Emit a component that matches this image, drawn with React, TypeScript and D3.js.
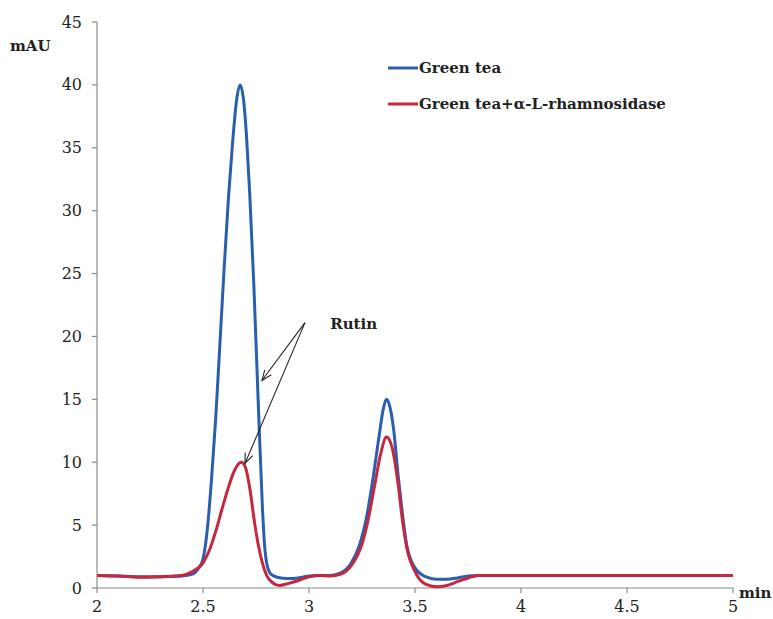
import React from "react";
import * as d3 from "d3";

const blueX = [2.0, 2.1, 2.2, 2.3, 2.4, 2.45, 2.48, 2.5, 2.52, 2.54, 2.56, 2.58, 2.6, 2.62, 2.64, 2.66, 2.675, 2.69, 2.705, 2.72, 2.74, 2.76, 2.78, 2.79, 2.8, 2.82, 2.85, 2.9, 2.95, 3.0, 3.05, 3.1, 3.15, 3.2, 3.24, 3.27, 3.3, 3.33, 3.35, 3.365, 3.38, 3.4, 3.42, 3.44, 3.46, 3.5, 3.55, 3.6, 3.65, 3.7, 3.75, 3.8, 4.0, 4.5, 5.0];
const blueY = [1.0, 0.95, 0.9, 0.9, 0.95, 1.1, 1.6, 2.3, 4.6, 8.6, 13.5, 19.5, 25.5, 31, 35.5, 39, 40, 39, 36, 31.5, 24, 15, 6.5, 3.5, 2.0, 1.1, 0.85, 0.75, 0.8, 0.95, 1.0, 1.0, 1.2, 2.0, 3.5, 5.5, 8.5, 12, 14.2, 15, 14.5, 12.5, 9, 6, 3.5, 1.6, 0.9, 0.7, 0.7, 0.8, 0.95, 1.0, 1.0, 1.0, 1.0];

const redX = [2.0, 2.1, 2.2, 2.3, 2.4, 2.45, 2.5, 2.53, 2.56, 2.59, 2.62, 2.65, 2.68, 2.7, 2.72, 2.745, 2.76, 2.78, 2.8, 2.83, 2.86, 2.9, 2.95, 3.0, 3.05, 3.1, 3.15, 3.2, 3.25, 3.28, 3.31, 3.34, 3.365, 3.39, 3.42, 3.44, 3.46, 3.5, 3.55, 3.6, 3.65, 3.7, 3.75, 3.8, 4.0, 4.5, 5.0];
const redY = [1.0, 0.95, 0.85, 0.9, 1.0, 1.3, 2.0, 3.0, 4.5, 6.3, 8.0, 9.4, 10, 9.6, 8.0, 5.0, 3.5, 2.0, 1.0, 0.4, 0.2, 0.35, 0.6, 0.9, 1.0, 0.95, 1.1, 1.8, 3.5, 5.5, 8.2, 10.8, 12, 11.3, 8.3, 5.5, 3.3, 1.3, 0.3, 0.1, 0.2, 0.5, 0.8, 1.0, 1.0, 1.0, 1.0];

const xTicks = [2, 2.5, 3, 3.5, 4, 4.5, 5];
const yTicks = [0, 5, 10, 15, 20, 25, 30, 35, 40, 45];
const seriesNames = ["Green tea", "Green tea+\u03b1-L-rhamnosidase"];
const seriesColors = ["#2a5fb0", "#c4283e"];
const annotationLabel = "Rutin";
// arrow start, arrow tips (data coords)
const arrowStart = [2.981, 21.1];
const arrowTips = [[2.778, 16.5], [2.698, 9.9]];
const labelPos = [3.1, 20.6];

export default function App() {
  const W = 773, H = 619;
  const x = d3.scaleLinear().domain([2, 5]).range([97, 733]);
  const y = d3.scaleLinear().domain([0, 45]).range([588, 22]);
  const line = d3.line<[number, number]>().x(d => x(d[0])).y(d => y(d[1])).curve(d3.curveMonotoneX);
  const blue = blueX.map((v, i) => [v, blueY[i]] as [number, number]);
  const red = redX.map((v, i) => [v, redY[i]] as [number, number]);
  const axisColor = "#8a8a8a";
  const font = "'DejaVu Serif', 'Liberation Serif', serif";
  const ts = { fontFamily: font };

  const arrowHead = (sx: number, sy: number, tx: number, ty: number) => {
    const ang = Math.atan2(ty - sy, tx - sx);
    const len = 11, spread = 0.38;
    const p1 = [tx - len * Math.cos(ang - spread), ty - len * Math.sin(ang - spread)];
    const p2 = [tx - len * Math.cos(ang + spread), ty - len * Math.sin(ang + spread)];
    return `M${p1[0]},${p1[1]}L${tx},${ty}L${p2[0]},${p2[1]}`;
  };

  return (
    <svg width={W} height={H} style={{ position: "absolute", left: 0, top: 0, background: "#fff" }}>
      {/* axes */}
      <line x1={x(2)} x2={x(5)} y1={y(0)} y2={y(0)} stroke={axisColor} strokeWidth={1.2} />
      <line x1={x(2)} x2={x(2)} y1={y(0)} y2={y(45)} stroke={axisColor} strokeWidth={1.2} />
      {yTicks.map(t => (
        <g key={"y" + t}>
          <line x1={x(2) - 5} x2={x(2)} y1={y(t)} y2={y(t)} stroke={axisColor} strokeWidth={1.2} />
          <text style={ts} x={x(2) - 15} y={y(t)} dy="0.35em" textAnchor="end" fontSize={16} fill="#222">{t}</text>
        </g>
      ))}
      {xTicks.map(t => (
        <g key={"x" + t}>
          <line x1={x(t)} x2={x(t)} y1={y(0)} y2={y(0) + 5} stroke={axisColor} strokeWidth={1.2} />
          <text style={ts} x={x(t)} y={y(0) + 24} textAnchor="middle" fontSize={16} fill="#222">{t}</text>
        </g>
      ))}
      <text style={ts} x={10} y={51} fontSize={15} fontWeight="bold" fill="#222">mAU</text>
      <text style={ts} x={739} y={598} fontSize={15} fontWeight="bold" fill="#222">min</text>

      {/* series */}
      <path d={line(blue) || ""} fill="none" stroke={seriesColors[0]} strokeWidth={3} />
      <path d={line(red) || ""} fill="none" stroke={seriesColors[1]} strokeWidth={3} />

      {/* legend */}
      {seriesNames.map((n, i) => (
        <g key={n}>
          <line x1={388} x2={418} y1={68 + i * 36} y2={68 + i * 36} stroke={seriesColors[i]} strokeWidth={3} />
          <text style={ts} x={419} y={68 + i * 36} dy="0.35em" fontSize={15} fontWeight="bold" fill="#222">{n}</text>
        </g>
      ))}

      {/* annotation */}
      <text style={ts} x={x(labelPos[0])} y={y(labelPos[1])} fontSize={15} fontWeight="bold" fill="#222">{annotationLabel}</text>
      {arrowTips.map((tp, i) => {
        const sx = x(arrowStart[0]), sy = y(arrowStart[1]);
        const tx = x(tp[0]), ty = y(tp[1]);
        return (
          <g key={"a" + i}>
            <line x1={sx} y1={sy} x2={tx} y2={ty} stroke="#222" strokeWidth={1.1} />
            <path d={arrowHead(sx, sy, tx, ty)} fill="none" stroke="#222" strokeWidth={1.1} />
          </g>
        );
      })}
    </svg>
  );
}
